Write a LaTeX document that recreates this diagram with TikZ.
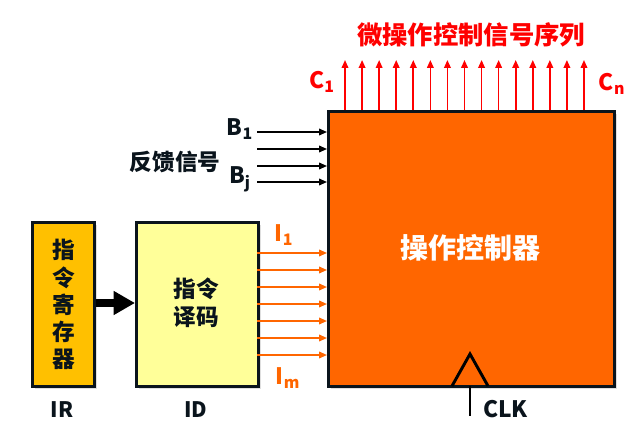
\documentclass[tikz,border=0pt]{standalone}
\usepackage{fontspec}
\setmainfont{Noto Sans CJK SC}
\usetikzlibrary{arrows.meta,shadows}
\definecolor{ctrlorange}{HTML}{FF6600}
\definecolor{irgold}{HTML}{FFC000}
\definecolor{idyellow}{HTML}{FFFF99}
\definecolor{inkdark}{HTML}{0A141C}
\begin{document}
\begin{tikzpicture}[x=0.75pt,y=-0.75pt,
  font=\bfseries,
  blockbox/.style={draw=inkdark,line width=2.2pt,inner sep=0pt,
    drop shadow={shadow xshift=2pt,shadow yshift=-2pt,opacity=0.25}},
  sigred/.style={red,line width=1.2pt,-{Triangle[length=6pt,width=5pt]}},
  sigblack/.style={black,line width=1.2pt,-{Triangle[length=6pt,width=5pt]}},
  sigorange/.style={ctrlorange,line width=1.2pt,-{Triangle[length=6pt,width=5pt]}},
  lbl/.style={inner sep=0pt,text=inkdark,font=\fontsize{16}{18}\selectfont\bfseries}
]
\useasboundingbox (0,0) rectangle (631,435);

% blocks
\node[blockbox,fill=irgold,minimum width=62*0.75pt,minimum height=164*0.75pt,anchor=north west] (ir) at (31,221) {};
\node[blockbox,fill=idyellow,minimum width=122*0.75pt,minimum height=164*0.75pt,anchor=north west] (id) at (135,221) {};
\node[blockbox,fill=ctrlorange,line width=2.6pt,minimum width=286*0.75pt,minimum height=275*0.75pt,anchor=north west] (cu) at (327,110) {};

% block texts
\node[align=center,text=inkdark,font=\fontsize{17}{20.3}\selectfont\bfseries] (irtext) at (ir.center) {指\\令\\寄\\存\\器};
\node[align=center,text=inkdark,font=\fontsize{17}{21}\selectfont\bfseries] (idtext) at (196,303) {指令\\译码};
\node[text=white,font=\fontsize{21}{24}\selectfont\bfseries] (cutext) at (470,248) {操作控制器};

% labels below
\node[lbl] (irlbl) at (62,410) {IR};
\node[lbl] (idlbl) at (196,410) {ID};

% IR -> ID thick arrow
\draw[black,line width=6pt,-{Triangle[length=16pt,width=17pt]}] (ir.east |- 0,303) -- (id.west |- 0,303);

% decoder outputs I1..Im
\foreach \k/\yy in {1/253,2/270,3/287,4/304,5/321,6/338,7/355}{
  \coordinate (o\k) at (257,\yy);
  \draw[sigorange] (o\k) -- (cu.west |- o\k);
}
\node[inner sep=0pt,text=ctrlorange,font=\fontsize{17}{20}\selectfont\bfseries] (ione) at (284,235) {I$_{\mathbf 1}$};
\node[inner sep=0pt,text=ctrlorange,font=\fontsize{17}{20}\selectfont\bfseries] (im) at (288,378) {I\textsubscript{m}};

% feedback inputs
\foreach \k/\yy in {1/132,2/149,3/166,4/182}{
  \coordinate (f\k) at (257,\yy);
  \draw[sigblack] (f\k) -- (cu.west |- f\k);
}
\node[lbl,font=\fontsize{17}{20}\selectfont\bfseries] (bone) at (240,129) {B\textsubscript{1}};
\node[lbl,font=\fontsize{17}{20}\selectfont\bfseries] (bj) at (240,179) {B\textsubscript{j}};
\node[lbl,font=\fontsize{17}{20}\selectfont\bfseries] (fbtext) at (175,162) {反馈信号};

% control outputs C1..Cn
\foreach \k in {0,...,14}{
  \coordinate (c\k) at ({345+\k*17.07},110);
  \draw[sigred] (c\k) -- ++(0,-50);
}
\node[inner sep=0pt,text=red,font=\fontsize{17}{20}\selectfont\bfseries] (cone) at (322,82) {C\textsubscript{1}};
\node[inner sep=0pt,text=red,font=\fontsize{17}{20}\selectfont\bfseries] (cn) at (612,84) {C\textsubscript{n}};
\node[inner sep=0pt,text=red,font=\fontsize{19}{22}\selectfont\bfseries] (title) at (471,35) {微操作控制信号序列};

% clock input
\coordinate (clkapex) at (470,354);
\draw[black,line width=2.2pt,line join=miter] (452,386) -- (clkapex) -- (488,386);
\coordinate (clkend) at (470,416);
\draw[black,line width=2.2pt] (470,386) -- (clkend);
\node[lbl,anchor=west,font=\fontsize{17}{20}\selectfont\bfseries] (clk) at (483,409) {CLK};
\end{tikzpicture}
\end{document}
